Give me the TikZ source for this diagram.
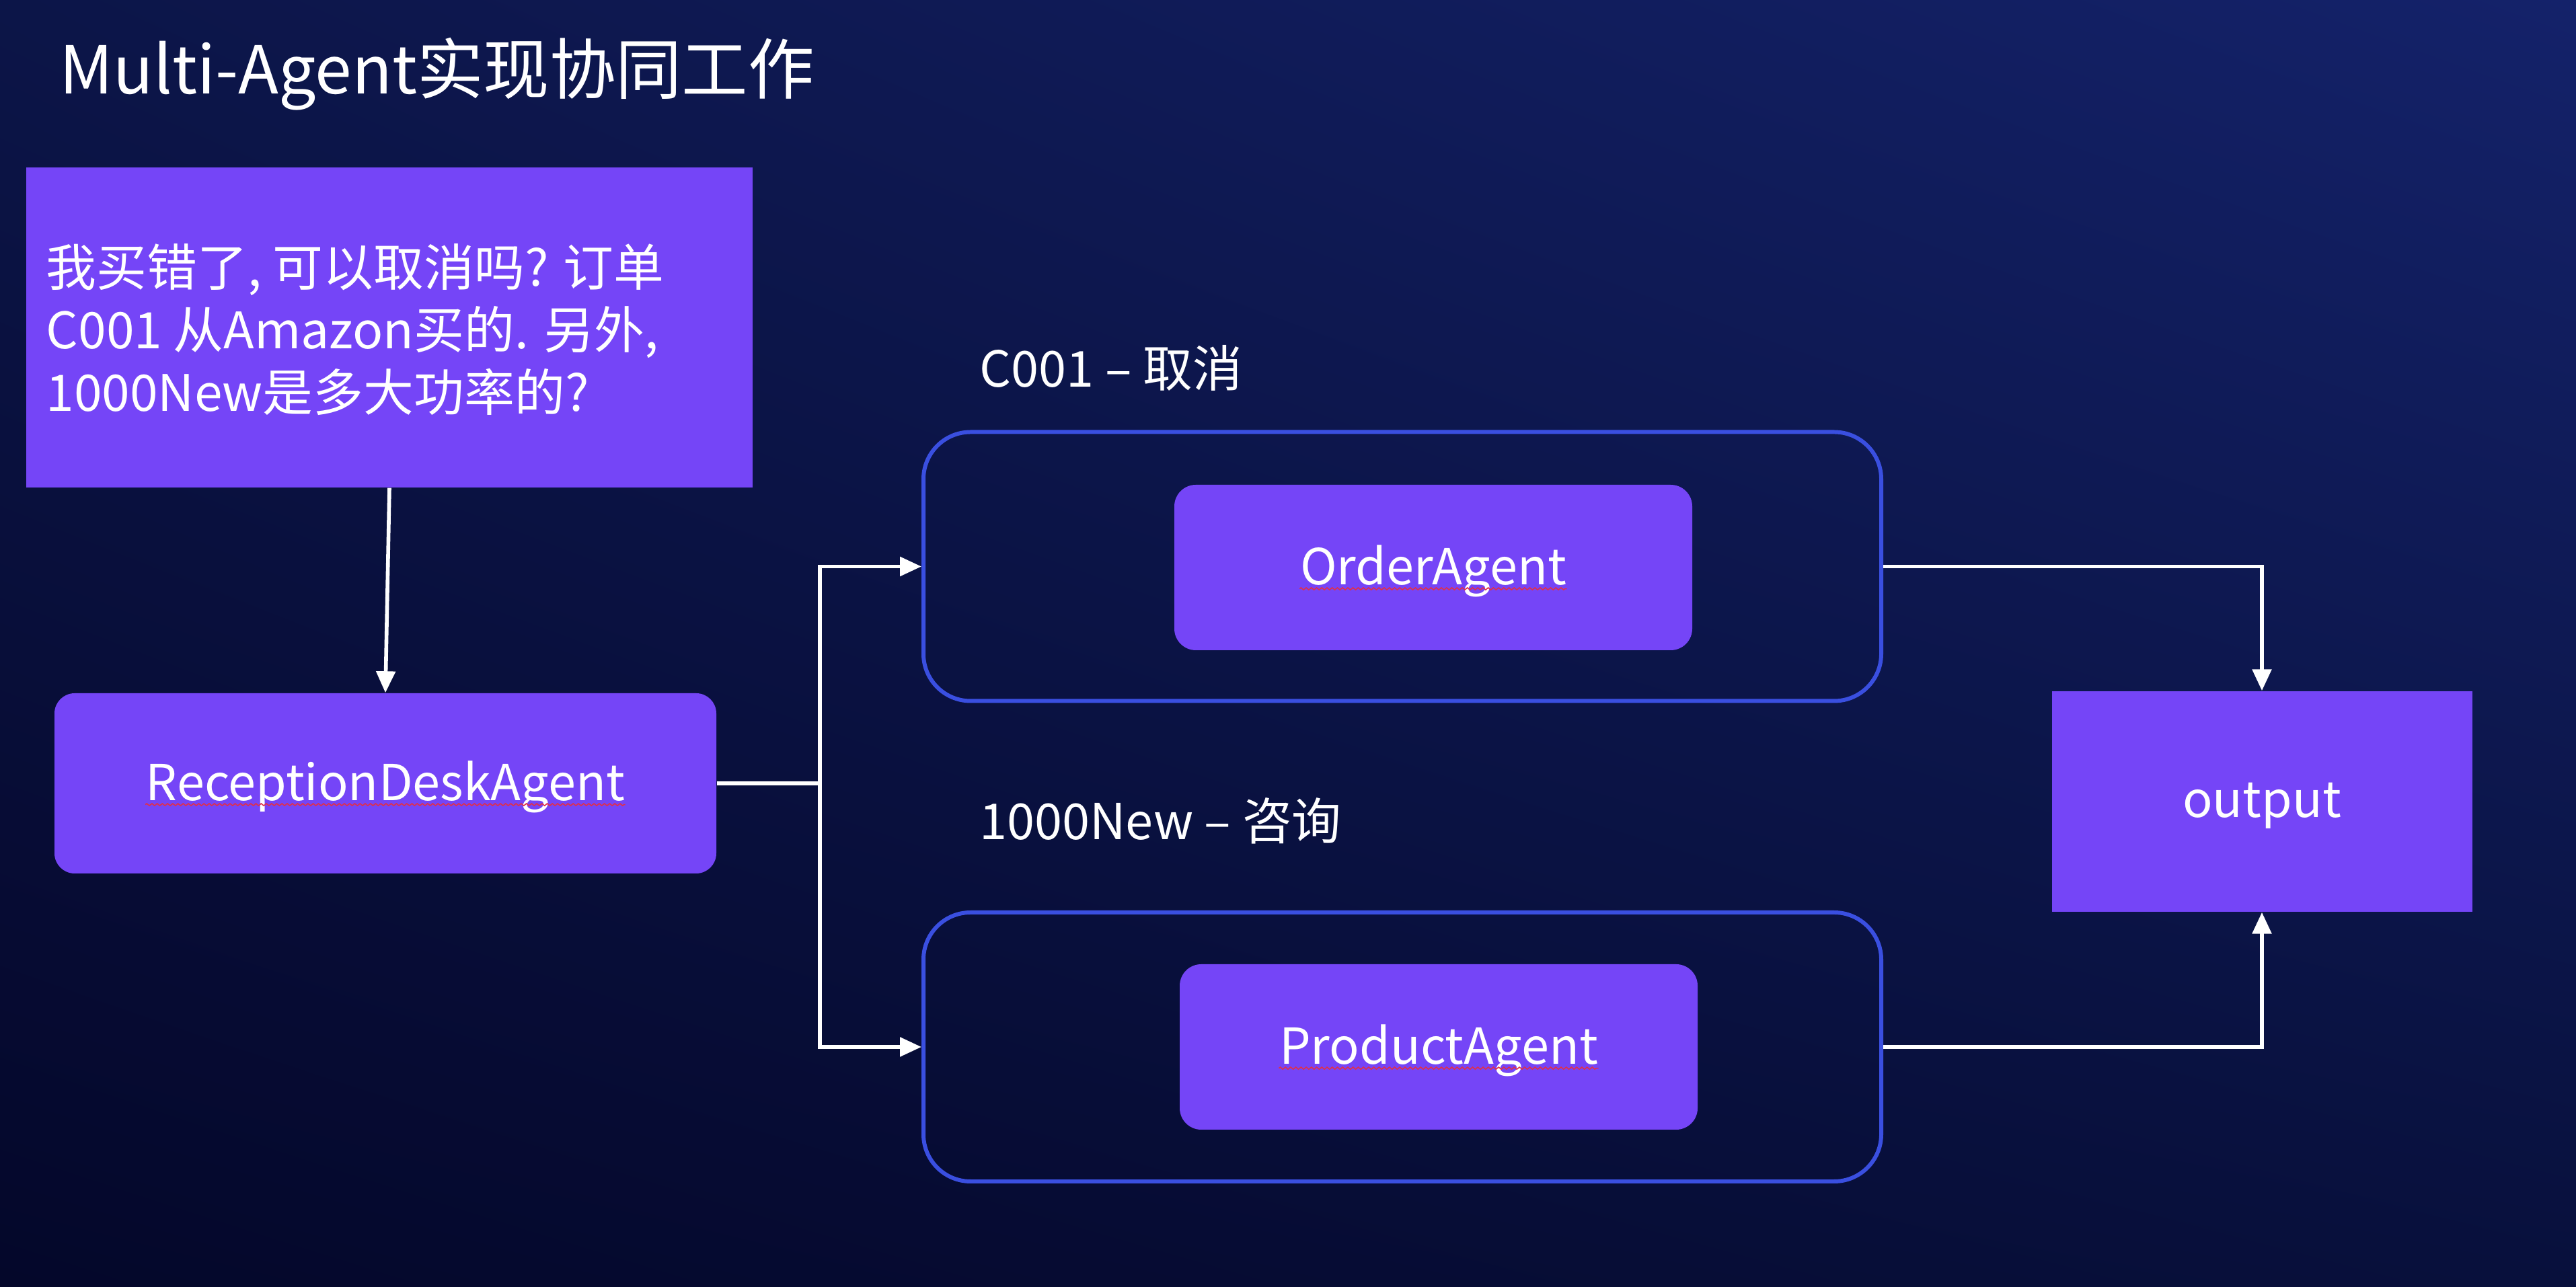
\documentclass[tikz,border=0pt]{standalone}
\usepackage{fontspec}
\setmainfont{Noto Sans CJK SC}
\usepackage{tikz}
\usetikzlibrary{positioning}
\usetikzlibrary{arrows.meta}
\usetikzlibrary{shadings}
\usetikzlibrary{decorations.pathmorphing}
\definecolor{bgdark}{HTML}{04072A}
\definecolor{bgmid}{HTML}{0C1548}
\definecolor{bglow}{HTML}{08103C}
\definecolor{bglight}{HTML}{14226A}
\definecolor{agentpurple}{HTML}{7545F7}
\definecolor{frameblue}{HTML}{3A4FE0}
\definecolor{spellred}{HTML}{E0304A}
\newcommand\headfont{\fontsize{28}{34}\selectfont}
\newcommand\askfont{\fontsize{21.3}{26.4}\selectfont}
\newcommand\boxfont{\fontsize{21}{25}\selectfont}
\tikzset{
	agent/.style={
		fill=agentpurple,
		rounded corners=0.32cm,
		minimum width=7.7cm,
		minimum height=2.46cm},
	plainbox/.style={
		fill=agentpurple,
		inner sep=0pt},
	frame/.style={
		draw=frameblue,
		line width=1.7pt,
		rounded corners=0.7cm,
		minimum width=14.24cm,
		minimum height=4.0cm},
	agentname/.style={
		text=white,
		font=\boxfont,
		anchor=base,
		inner sep=0pt},
	flow/.style={
		draw=white,
		line width=1.6pt,
		-{Triangle[length=0.32cm,width=0.28cm]}},
	spell/.style={
		draw=spellred,
		line width=0.45pt,
		decorate,
		decoration={zigzag, segment length=2.2pt, amplitude=0.45pt}}
}

\begin{document}
\begin{tikzpicture}
	\useasboundingbox (0,0) rectangle (38.30,19.14);
	\shade[lower left=bgdark, upper left=bgmid, upper right=bglight, lower right=bglow] (0,0) rectangle (38.30,19.14);

	\node[anchor=west, text=white, font=\headfont, inner sep=0pt] (title) at (0.88,18.04) {Multi-Agent实现协同工作};

	\node[plainbox, minimum width=10.8cm, minimum height=4.76cm] (ask) at (5.79,14.27) {};
	\node[anchor=west, text=white, font=\askfont, align=left, inner sep=0pt] (asktext) at (0.68,14.24)
		{我买错了, 可以取消吗? 订单\\C001 从Amazon买的. 另外,\\1000New是多大功率的?};

	\node[agent, minimum width=9.84cm, minimum height=2.68cm, rounded corners=0.3cm] (reception) at (5.73,7.49) {};
	\node[agentname] (receptionname) at ([yshift=-0.26cm]reception.center) {ReceptionDeskAgent};

	\node[frame] (orderframe) at (20.85,10.715) {};
	\node[frame] (productframe) at (20.85,3.57) {};
	\node[anchor=west, text=white, font=\boxfont, inner sep=0pt] (ordertag) at (14.56,13.67) {C001 – 取消};
	\node[anchor=west, text=white, font=\boxfont, inner sep=0pt] (producttag) at (14.56,6.93) {1000New – 咨询};

	\node[agent] (order) at (21.31,10.70) {};
	\node[agentname] (ordername) at ([yshift=-0.26cm]order.center) {OrderAgent};
	\node[agent] (product) at (21.39,3.57) {};
	\node[agentname] (productname) at ([yshift=-0.26cm]product.center) {ProductAgent};

	\node[plainbox, minimum width=6.25cm, minimum height=3.28cm, text=white, font=\boxfont, text depth=0.12em] (output) at (33.63,7.22) {output};

	% spell-check marks
	\draw[spell] ([yshift=-1.6pt]receptionname.base west) -- ([yshift=-1.6pt]receptionname.base east);
	\draw[spell] ([yshift=-1.6pt]ordername.base west) -- ([yshift=-1.6pt]ordername.base east);
	\draw[spell] ([yshift=-1.6pt]productname.base west) -- ([yshift=-1.6pt]productname.base east);

	\coordinate (fork) at (12.19,7.49);
	\draw[flow] (ask.south) -- (reception.north);
	\draw[flow, -] (reception.east) -- (fork);
	\draw[flow] (fork) |- (orderframe.west);
	\draw[flow] (fork) |- (productframe.west);
	\draw[flow] (orderframe.east) -| (output.north);
	\draw[flow] (productframe.east) -| (output.south);
\end{tikzpicture}
\end{document}
